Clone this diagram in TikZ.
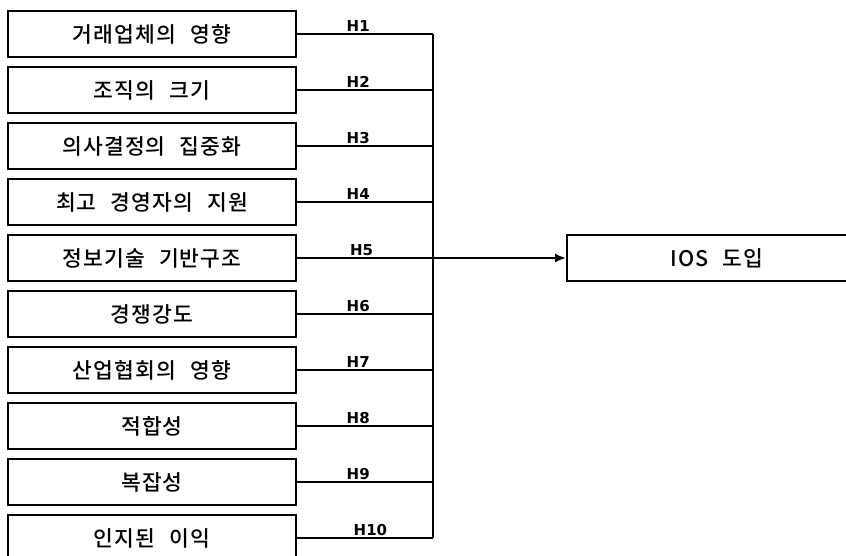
\documentclass[tikz,border=0pt]{standalone}
\usepackage{fontspec}
\newfontfamily\kr[LetterSpace=5,WordSpace=2.4]{Noto Sans CJK KR Medium}
\newfontfamily\hl{DejaVu Sans}
\usetikzlibrary{arrows.meta}
\tikzset{
  factor/.style={draw, line width=2pt, minimum width=288pt, minimum height=46pt, inner sep=0pt, font=\kr\fontsize{21.5}{21.5}\selectfont},
  link/.style={line width=2pt},
  hlab/.style={font=\hl\fontsize{15}{15}\selectfont\bfseries, inner sep=1.5pt, anchor=south},
}
\begin{document}
\begin{tikzpicture}[x=1pt,y=-1pt]
\useasboundingbox (0,0) rectangle (846,555);
\clip (0,0) rectangle (846,555);
\foreach \t [count=\i] in {거래업체의 영향,조직의 크기,의사결정의 집중화,최고 경영자의 지원,정보기술 기반구조,경쟁강도,산업협회의 영향,적합성,복잡성,인지된 이익}{
  \node[factor] (f\i) at (152,{34+(\i-1)*56}) {\t};
}
\node[factor, minimum width=300pt] (ios) at (717,258) {IOS 도입};
\foreach \i in {1,...,10}{
  \coordinate (b\i) at (433,{34+(\i-1)*56});
}
\foreach \i in {1,2,3,4,6,7,8,9}{
  \draw[link] (f\i.east) -- (b\i) node[hlab, pos=0.45] {H\i};
}
\draw[link] (f10.east) -- (b10) node[hlab, pos=0.54] {H10};
\draw[link] (b1) -- (b10);
\draw[link, -{Latex[length=11pt,width=9pt]}] (f5.east) -- node[hlab, pos=0.24] {H5} (ios.west);
\end{tikzpicture}
\end{document}
